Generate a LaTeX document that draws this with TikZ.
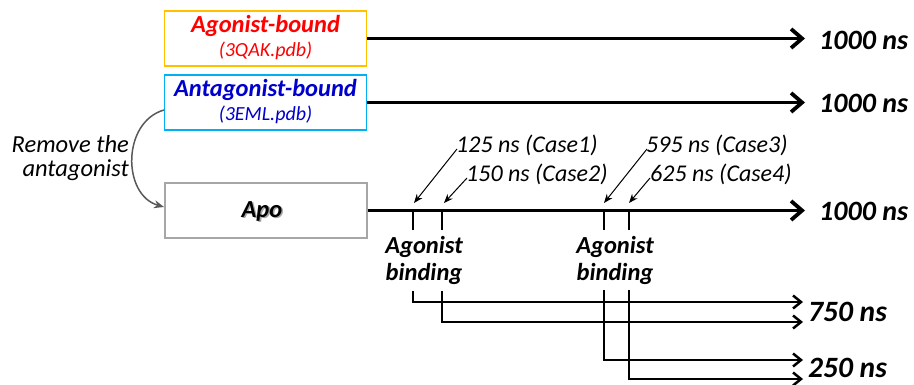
\documentclass[tikz,border=0pt]{standalone}
\usepackage{fontspec}
\setmainfont{Carlito}
\usetikzlibrary{arrows.meta}
\definecolor{agborder}{HTML}{FFC000}
\definecolor{antborder}{HTML}{00B0F0}
\definecolor{apoborder}{HTML}{A6A6A6}
\definecolor{agred}{HTML}{FF0000}
\definecolor{antblue}{HTML}{0000CC}
\definecolor{curvegray}{HTML}{595959}
\begin{document}
\begin{tikzpicture}[x=1pt,y=-1pt,
  box/.style={draw, line width=1.3pt, fill=white, minimum width=202pt, minimum height=55pt, inner sep=0pt},
  title/.style={font=\fontsize{24.5}{26}\selectfont\bfseries\itshape, inner sep=0pt},
  sub/.style={font=\fontsize{20}{22}\selectfont\itshape, inner sep=0pt},
  timelbl/.style={font=\fontsize{28}{30}\selectfont\bfseries\itshape, inner sep=0pt, anchor=west},
  biglbl/.style={font=\fontsize{29.5}{31}\selectfont\bfseries\itshape, inner sep=0pt, anchor=west},
  caselbl/.style={font=\fontsize{24}{25}\selectfont\itshape, inner sep=0pt, anchor=west},
  bindlbl/.style={font=\fontsize{24.5}{27}\selectfont\bfseries\itshape, inner sep=0pt, align=center},
  mainarrow/.style={line width=3.8pt, -{Straight Barb[length=11pt,width=19pt]}},
  lowarrow/.style={line width=2.5pt, -{Straight Barb[length=8pt,width=13pt]}},
  ticklin/.style={line width=2.5pt},
  thinarrow/.style={line width=1pt, -{Stealth[length=9pt,width=7pt]}},
  curvearrow/.style={line width=1.5pt, draw=curvegray, -{Stealth[length=10pt,width=8pt]}}
]
\useasboundingbox (0,0) rectangle (914,385);

% boxes
\node[box, draw=agborder] (ag) at (265.5,38.5) {};
\node[title, text=agred] (agt) at (265.5,26) {Agonist-bound};
\node[sub, text=agred] (ags) at (265.5,51) {(3QAK.pdb)};

\node[box, draw=antborder] (ant) at (265.5,102.5) {};
\node[title, text=antblue] (antt) at (265.5,90) {Antagonist-bound};
\node[sub, text=antblue] (ants) at (265.5,115) {(3EML.pdb)};

\node[box, draw=apoborder] (apo) at (266,210.5) {};
\node[title, text=black!35] (apos) at (263.5,212.5) {Apo};
\node[title] (apot) at (262,211) {Apo};

% main time lines
\coordinate (e1) at (805,38.5);
\coordinate (e2) at (805,102.5);
\coordinate (e3) at (805,210.5);
\draw[mainarrow] (ag.east) -- (e1);
\draw[mainarrow] (ant.east) -- (e2);
\draw[mainarrow] (apo.east) -- (e3);
\node[timelbl] (l1) at (819,40) {1000 ns};
\node[timelbl] (l2) at (819,103) {1000 ns};
\node[timelbl] (l3) at (819,211) {1000 ns};

% remove the antagonist
\node[font=\fontsize{24.5}{24.5}\selectfont\itshape, align=right, inner sep=0pt, anchor=east] (rm) at (129,158) {Remove the\\antagonist};
\coordinate (cs) at (164,110);
\coordinate (ce) at (164,207);
\draw[curvearrow] (cs) .. controls (122,122) and (122,195) .. (ce);

% ticks
\coordinate (t1) at (413,210.5);
\coordinate (t2) at (442,210.5);
\coordinate (t3) at (604,210.5);
\coordinate (t4) at (629,210.5);
\coordinate (b1) at (413,230);
\coordinate (b2) at (442,230);
\coordinate (b3) at (604,230);
\coordinate (b4) at (629,230);
\draw[ticklin] (t1) -- (b1);
\draw[ticklin] (t2) -- (b2);
\draw[ticklin] (t3) -- (b3);
\draw[ticklin] (t4) -- (b4);

% agonist binding labels
\node[bindlbl] (bind1) at (424,260) {Agonist\\binding};
\node[bindlbl] (bind2) at (615,260) {Agonist\\binding};

% case annotations
\node[caselbl] (c1) at (456,145) {125 ns (Case1)};
\node[caselbl] (c2) at (466,174) {150 ns (Case2)};
\node[caselbl] (c3) at (646,145) {595 ns (Case3)};
\node[caselbl] (c4) at (650,174) {625 ns (Case4)};
\coordinate (a1s) at (457,149);
\coordinate (a2s) at (467,178);
\coordinate (a3s) at (647,149);
\coordinate (a4s) at (650,178);
\coordinate (a1e) at (414,203);
\coordinate (a2e) at (444,203);
\coordinate (a3e) at (604,203);
\coordinate (a4e) at (629,203);
\draw[thinarrow] (a1s) -- (a1e);
\draw[thinarrow] (a2s) -- (a2e);
\draw[thinarrow] (a3s) -- (a3e);
\draw[thinarrow] (a4s) -- (a4e);

% branch lines
\coordinate (v1) at (413,291);
\coordinate (v2) at (442,291);
\coordinate (v3) at (604,290);
\coordinate (v4) at (629,290);
\coordinate (f1) at (803,302);
\coordinate (f2) at (803,322);
\coordinate (f3) at (803,360);
\coordinate (f4) at (803,379);
\draw[lowarrow] (v1) |- (f1);
\draw[lowarrow] (v2) |- (f2);
\draw[lowarrow] (v3) |- (f3);
\draw[lowarrow] (v4) |- (f4);
\node[biglbl] (l750) at (808,312) {750 ns};
\node[biglbl] (l250) at (808,368) {250 ns};
\end{tikzpicture}
\end{document}
